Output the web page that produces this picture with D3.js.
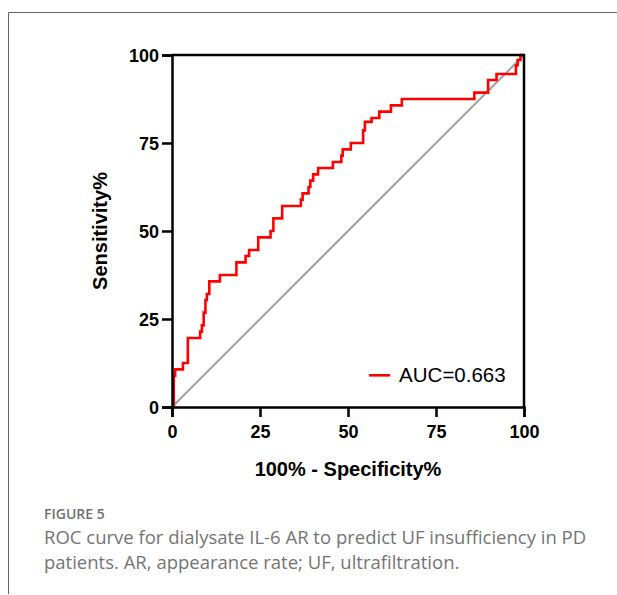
<!DOCTYPE html>
<html>
<head>
<meta charset="utf-8">
<script src="https://cdn.jsdelivr.net/npm/d3@7"></script>
<style>
  body { margin: 0; background: #fff; }
  svg { display: block; }
</style>
</head>
<body>
<svg id="chart"></svg>
<script>
// ROC curve data (100% - specificity, sensitivity)
const fpr = [0, 0.5, 0.9, 3.1, 4.5, 8.0, 8.5, 9.0, 9.5, 9.9, 10.6, 13.6, 18.3, 20.9, 21.9, 24.5,
  28.0, 28.8, 31.3, 36.6, 37.1, 38.8, 39.3, 40.1, 41.5, 45.7, 48.1, 48.5, 50.8, 54.3, 54.8,
  56.7, 58.9, 62.2, 65.3, 85.9, 89.8, 92.2, 97.7, 98.2, 99.0, 100];
const tpr = [0, 8.9, 10.7, 12.5, 19.6, 21.4, 23.2, 26.8, 30.4, 32.1, 35.7, 37.5, 41.1, 42.9, 44.6, 48.2,
  50.0, 53.6, 57.1, 58.9, 60.7, 62.5, 64.3, 66.1, 67.9, 69.6, 71.4, 73.2, 75.0, 78.6, 81.0,
  82.1, 83.9, 85.7, 87.5, 89.3, 92.9, 94.6, 97.1, 98.6, 100, 100];
const xTicks = [0, 25, 50, 75, 100];
const yTicks = [0, 25, 50, 75, 100];
const legendLabel = "AUC=0.663";
const xLabel = "100% - Specificity%";
const yLabel = "Sensitivity%";
const figTitle = "FIGURE 5";
const captionLines = [
  "ROC curve for dialysate IL-6 AR to predict UF insufficiency in PD",
  "patients. AR, appearance rate; UF, ultrafiltration."
];

const W = 617, H = 595;
const margin = {top: 55, right: 93, bottom: 188, left: 172};
const width = W - margin.left - margin.right;   // 352
const height = H - margin.top - margin.bottom;  // 352

const svg = d3.select('#chart').attr('width', W).attr('height', H);

// outer frame of the figure panel
svg.append('path')
  .attr('d', 'M8.5,594 V12.5 H620')
  .attr('fill', 'none')
  .attr('stroke', '#666')
  .attr('stroke-width', 1);

const g = svg.append('g')
  .attr('transform', 'translate(' + margin.left + ',' + margin.top + ')');

const x = d3.scaleLinear().domain([0, 100]).range([0, width]);
const y = d3.scaleLinear().domain([0, 100]).range([height, 0]);

// reference diagonal
g.append('line')
  .attr('x1', x(0)).attr('y1', y(0))
  .attr('x2', x(100)).attr('y2', y(100))
  .attr('stroke', '#a3a3a3')
  .attr('stroke-width', 2.2);

// ROC curve
const pts = fpr.map((d, i) => [d, tpr[i]]);
const line = d3.line()
  .x(d => x(d[0]))
  .y(d => y(d[1]))
  .curve(d3.curveStepAfter);
g.append('path')
  .datum(pts)
  .attr('d', line)
  .attr('fill', 'none')
  .attr('stroke', '#ff0000')
  .attr('stroke-width', 2.6);

// box (top + right)
g.append('path')
  .attr('d', 'M0,' + y(100) + 'H' + x(100) + 'V' + y(0))
  .attr('fill', 'none')
  .attr('stroke', '#000')
  .attr('stroke-width', 2.5);

// axes
const xAxis = g.append('g')
  .attr('transform', 'translate(0,' + height + ')')
  .call(d3.axisBottom(x).tickValues(xTicks).tickSize(10).tickPadding(8));
const yAxis = g.append('g')
  .call(d3.axisLeft(y).tickValues(yTicks).tickSize(10).tickPadding(3));

[xAxis, yAxis].forEach(a => {
  a.select('.domain').attr('stroke', '#000').attr('stroke-width', 2.5);
  a.selectAll('.tick line').attr('stroke', '#000').attr('stroke-width', 2.5);
  a.selectAll('.tick text')
    .attr('fill', '#000')
    .style('font-family', 'Liberation Sans, Arial, sans-serif')
    .style('font-size', '18px')
    .style('font-weight', 'bold');
});
yAxis.selectAll('.tick text').attr('dy', '0.36em');

// axis titles
g.append('text')
  .attr('x', width / 2)
  .attr('y', height + 69)
  .attr('text-anchor', 'middle')
  .style('font-family', 'Liberation Sans, Arial, sans-serif')
  .style('font-size', '20px')
  .style('font-weight', 'bold')
  .text(xLabel);

g.append('text')
  .attr('transform', 'translate(-65,' + (height / 2) + ') rotate(-90)')
  .attr('text-anchor', 'middle')
  .style('font-family', 'Liberation Sans, Arial, sans-serif')
  .style('font-size', '20px')
  .style('font-weight', 'bold')
  .text(yLabel);

// legend
const leg = g.append('g').attr('transform', 'translate(' + (x(56) ) + ',' + y(9) + ')');
leg.append('line')
  .attr('x1', 0).attr('x2', 21)
  .attr('stroke', '#ff0000').attr('stroke-width', 2.6);
leg.append('text')
  .attr('x', 30).attr('y', 7)
  .style('font-family', 'Liberation Sans, Arial, sans-serif')
  .style('font-size', '20.5px')
  .text(legendLabel);

// caption
svg.append('text')
  .attr('x', 44).attr('y', 519)
  .attr('fill', '#707070')
  .style('font-family', 'Open Sans, sans-serif')
  .style('font-size', '14px')
  .style('font-weight', '600')
  .text(figTitle);
captionLines.forEach((t, i) => {
  svg.append('text')
    .attr('x', 44).attr('y', 544 + i * 25)
    .attr('fill', '#747474')
    .style('font-family', 'Open Sans, sans-serif')
    .style('font-size', '18.5px')
    .text(t);
});
</script>
</body>
</html>
